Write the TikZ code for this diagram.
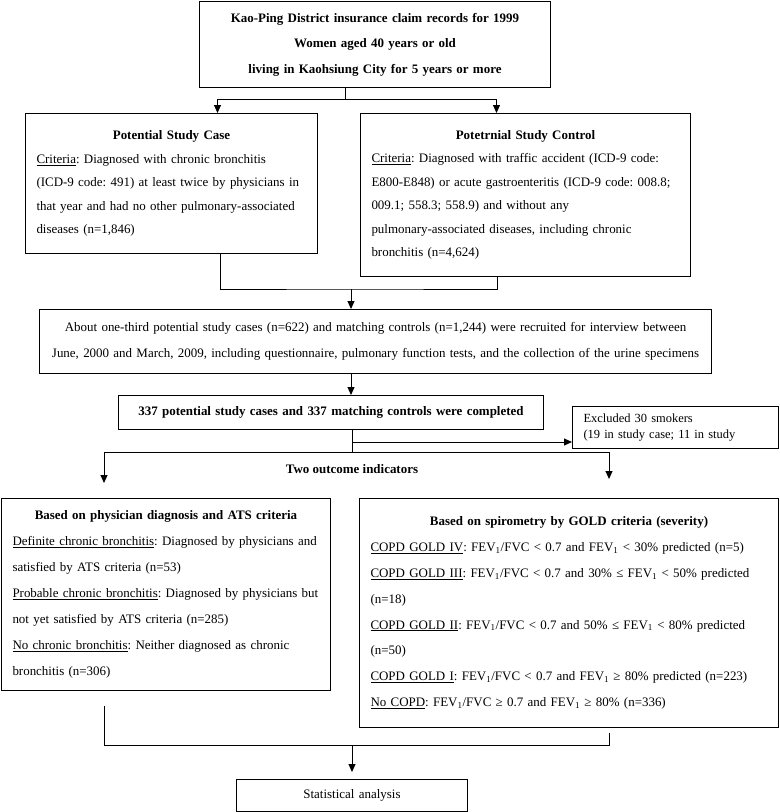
\documentclass[tikz,border=0pt]{standalone}
\usepackage{fontspec}
\setmainfont{Liberation Serif}
\usetikzlibrary{arrows.meta}
\frenchspacing
\newcommand{\fevone}{FEV\textsubscript{1}}
\newcommand{\boxtitle}[1]{\makebox[\linewidth][c]{\textbf{#1}}}

\begin{document}
\begin{tikzpicture}[x=1bp, y=-1bp,
  box/.style={draw, line width=1bp, anchor=north west, inner xsep=11bp, inner ysep=0pt},
  link/.style={line width=1bp},
  arr/.style={line width=1bp, -{Triangle[length=8bp, width=7bp]}}]
  \useasboundingbox (0,0) rectangle (780,812);

  % boxes
  \node[box, text width=329bp, minimum height=86bp, align=center,
        font=\fontsize{13}{25.5}\selectfont\bfseries] (records) at (199,1)
    {Kao-Ping District insurance claim records for 1999\\
     Women aged 40 years or old\\
     living in Kaohsiung City for 5 years or more};

  \node[box, text width=270bp, minimum height=140bp, align=left,
        font=\fontsize{13}{23.5}\selectfont] (case) at (25,113)
    {\boxtitle{Potential Study Case}\\
     \underline{Criteria}: Diagnosed with chronic bronchitis\\
     (ICD-9 code: 491) at least twice by physicians in\\
     that year and had no other pulmonary-associated\\
     diseases (n=1,846)};

  \node[box, text width=308bp, minimum height=163bp, align=left,
        font=\fontsize{13}{23.5}\selectfont] (control) at (360,113)
    {\boxtitle{Potetrnial Study Control}\\
     \underline{Criteria}: Diagnosed with traffic accident (ICD-9 code:\\
     E800-E848) or acute gastroenteritis (ICD-9 code: 008.8;\\
     009.1; 558.3; 558.9) and without any\\
     pulmonary-associated diseases, including chronic\\
     bronchitis (n=4,624)};

  \node[box, text width=650bp, minimum height=64bp, align=center,
        font=\fontsize{13}{26}\selectfont] (recruit) at (39,309)
    {About one-third potential study cases (n=622) and matching controls (n=1,244) were recruited for interview between\\
     June, 2000 and March, 2009, including questionnaire, pulmonary function tests, and the collection of the urine specimens};

  \node[box, text width=403bp, minimum height=34bp, align=center,
        font=\fontsize{13}{15}\selectfont\bfseries] (completed) at (118,395)
    {337 potential study cases and 337 matching controls were completed};

  \node[box, text width=184bp, minimum height=42bp, align=left,
        font=\fontsize{12.5}{15.5}\selectfont] (excluded) at (572,406)
    {Excluded 30 smokers\\
     (19 in study case; 11 in study};

  \node[font=\fontsize{13}{15}\selectfont\bfseries] (outcome) at (352,469)
    {Two outcome indicators};

  \node[box, text width=307bp, minimum height=192bp, align=left,
        font=\fontsize{13}{26}\selectfont] (physician) at (1,498)
    {\boxtitle{Based on physician diagnosis and ATS criteria}\\
     \underline{Definite chronic bronchitis}: Diagnosed by physicians and\\
     satisfied by ATS criteria (n=53)\\
     \underline{Probable chronic bronchitis}: Diagnosed by physicians but\\
     not yet satisfied by ATS criteria (n=285)\\
     \underline{No chronic bronchitis}: Neither diagnosed as chronic\\
     bronchitis (n=306)};

  \node[box, text width=397bp, minimum height=229bp, align=left,
        font=\fontsize{13}{26}\selectfont] (spiro) at (359,498)
    {\boxtitle{Based on spirometry by GOLD criteria (severity)}\\
     \underline{COPD GOLD IV}: \fevone/FVC < 0.7 and \fevone{} < 30\% predicted (n=5)\\
     \underline{COPD GOLD III}: \fevone/FVC < 0.7 and 30\% ≤ \fevone{} < 50\% predicted\\
     (n=18)\\
     \underline{COPD GOLD II}: \fevone/FVC < 0.7 and 50\% ≤ \fevone{} < 80\% predicted\\
     (n=50)\\
     \underline{COPD GOLD I}: \fevone/FVC < 0.7 and \fevone{} ≥ 80\% predicted (n=223)\\
     \underline{No COPD}: \fevone/FVC ≥ 0.7 and \fevone{} ≥ 80\% (n=336)};

  \node[box, text width=209bp, minimum height=32bp, align=center,
        font=\fontsize{13}{15}\selectfont] (stats) at (236,779)
    {Statistical analysis};

  % split into case and control
  \coordinate (s1) at (345,99);
  \draw[link] (records.south -| s1) -- (s1);
  \draw[arr] (s1) -| ([xshift=46bp]case.north);
  \draw[arr] (s1) -| ([xshift=-29bp]control.north);

  % join into recruitment
  \coordinate (j1) at (351,289);
  \draw[link] ([xshift=49bp]case.south) |- (j1) -| ([xshift=-28bp]control.south);
  \draw[arr] (j1) -- (j1 |- recruit.north);
  \draw[arr] (recruit.south -| j1) -- (completed.north -| j1);

  % exclusion and the two outcomes
  \coordinate (j2) at (352,452);
  \coordinate (ex) at (352,442);
  \draw[link] (completed.south -| j2) -- (j2);
  \draw[arr] (ex) -- (ex -| excluded.west);
  \draw[arr, shorten >=15bp] (j2) -| ([xshift=-62bp]physician.north);
  \draw[arr, shorten >=19bp] (j2) -| ([xshift=40bp]spiro.north);

  % join into analysis
  \coordinate (j3) at (352,745);
  \draw[link, shorten <=15bp] ([xshift=-62bp]physician.south) |- (j3);
  \draw[link, shorten <=5bp] ([xshift=40bp]spiro.south) |- (j3);
  \draw[arr, shorten >=7bp] (j3) -- (j3 |- stats.north);
\end{tikzpicture}
\end{document}
